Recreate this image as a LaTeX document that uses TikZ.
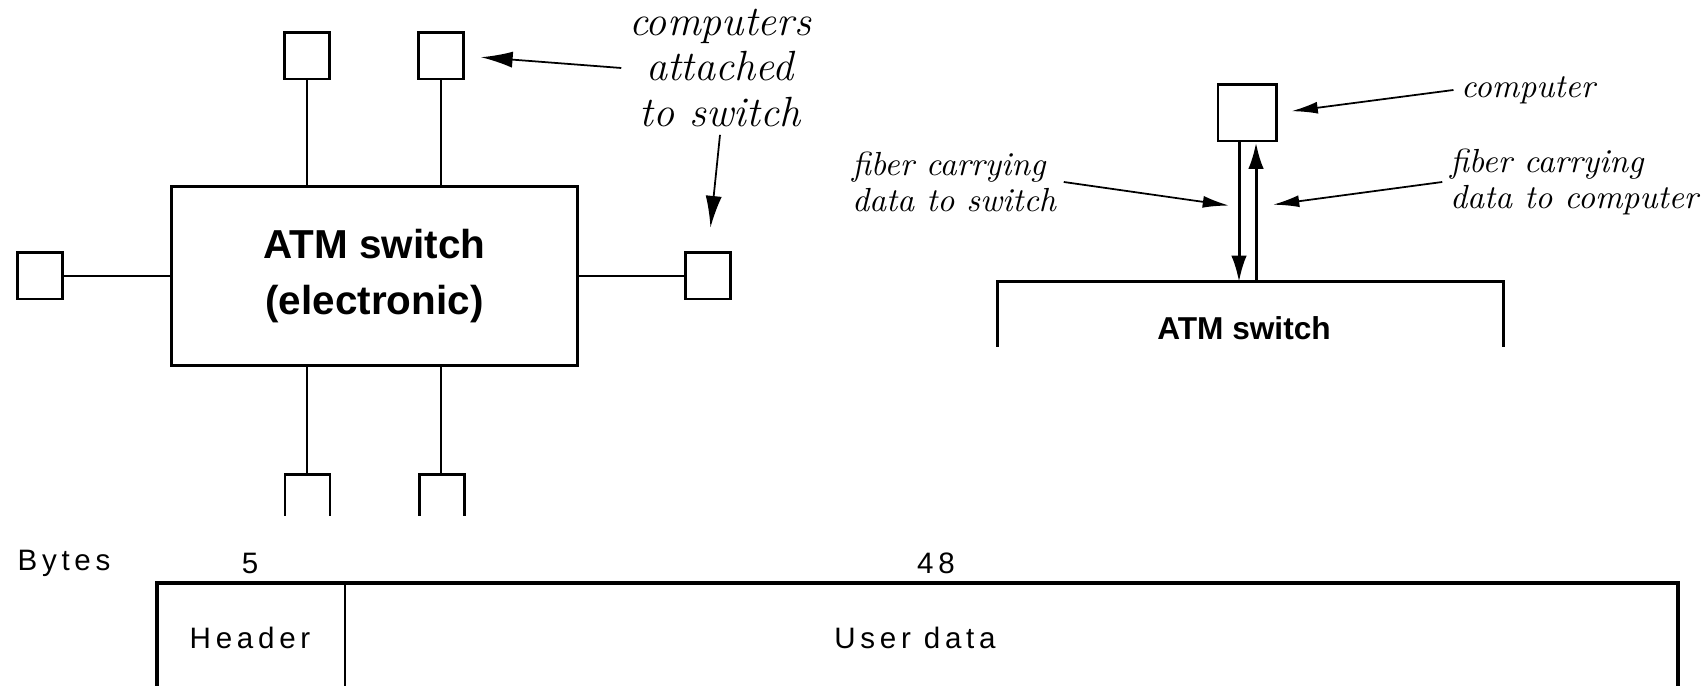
\documentclass[tikz,border=0pt]{standalone}
\usepackage{fontspec}
\usetikzlibrary{arrows.meta, positioning}
\newfontfamily\boxfont{Liberation Sans}
\newfontfamily\cellfont[LetterSpace=16]{Liberation Sans}

\begin{document}
\begin{tikzpicture}[x=0.01cm, y=-0.01cm,
	pc/.style={draw, line width=0.85pt, minimum width=0.45cm, minimum height=0.46cm, inner sep=0pt},
	link/.style={line width=0.55pt},
	outline/.style={line width=0.85pt},
	ptr/.style={-{Latex[length=9pt, width=4.6pt]}, line width=0.5pt},
	ptrs/.style={-{Latex[length=7.5pt, width=3.4pt]}, line width=0.5pt},
	fiber/.style={-{Latex[length=7.5pt, width=4.4pt]}, line width=0.85pt},
	note/.style={inner sep=2pt, font=\itshape\fontsize{9.5}{10}\selectfont},
	cell/.style={inner sep=1pt, font=\cellfont\fontsize{8.4}{10}\selectfont}]
	\useasboundingbox (0,0) rectangle (1703,686);
	% Switch with attached computers
	\node[draw, outline, minimum width=4.05cm, minimum height=1.78cm, align=center,
		font=\boxfont\bfseries\fontsize{11.5}{16}\selectfont] (atm) at (374.5,276) {ATM switch\\(electronic)};
	\node[pc] (top1) at (307,56) {};
	\node[pc] (top2) at (441,56) {};
	\node[pc] (lpc) at (40,276) {};
	\node[pc] (rpc) at (708,276) {};
	\coordinate (bot1) at (307,475);
	\coordinate (bot2) at (441,475);
	\draw[outline] (bot1) ++(-22,41) -- ++(0,-41) -- ++(45,0) -- ++(0,41);
	\draw[outline] (bot2) ++(-22,41) -- ++(0,-41) -- ++(45,0) -- ++(0,41);
	\draw[link] (top1.south) -- (top1.south |- atm.north);
	\draw[link] (top2.south) -- (top2.south |- atm.north);
	\draw[link] (lpc.east) -- (atm.west);
	\draw[link] (atm.east) -- (rpc.west);
	\draw[link] (atm.south -| bot1) -- (bot1);
	\draw[link] (atm.south -| bot2) -- (bot2);
	% Label for attached computers
	\node[note, align=center, font=\itshape\fontsize{12}{13}\selectfont] (attached) at (720,68) {computers\\attached\\to switch};
	\draw[ptr, shorten >=0.16cm] (attached.west) -- (top2.east);
	\draw[ptr, shorten >=0.24cm] (attached.south) -- (rpc.north);
	% One computer and its two fibers
	\node[pc, minimum width=0.58cm, minimum height=0.56cm] (pc) at (1247,113) {};
	\node[font=\boxfont\bfseries\fontsize{9}{11}\selectfont] (sw) at (1244,328) {ATM switch};
	\draw[outline] (997,347) |- (1503,282) -- (1503,347);
	\coordinate (swtop) at (1247,282);
	\draw[fiber] ([xshift=-0.08cm]pc.south) -- ([xshift=-0.08cm]swtop);
	\draw[fiber] ([xshift=0.09cm]swtop) -- ([xshift=0.09cm]pc.south);
	\coordinate (fdown) at (1239,207);
	\coordinate (fup) at (1256,207);
	\node[note] (pclbl) at (1528,90) {computer};
	\node[note, align=left] (tosw) at (954,182) {fiber carrying\\data to switch};
	\node[note, align=left] (topc) at (1574,182) {fiber carrying\\data to computer};
	\draw[ptrs, shorten >=0.14cm] (pclbl.west) -- (pc.east);
	\draw[ptrs, shorten >=0.1cm] (tosw.east) -- (fdown);
	\draw[ptrs, shorten >=0.17cm] (topc.west) -- (fup);
	% ATM cell
	\node[cell] (bytes) at (64,563) {Bytes};
	\node[cell] (n5) at (250,563) {5};
	\node[cell] (n48) at (936,563) {48};
	\node[cell] (hdr) at (250,638) {Header};
	\node[cell] (udata) at (915,638) {User data};
	\draw[line width=1.1pt] (157,686) |- (1678,583) -- (1678,686);
	\draw[line width=0.6pt] (345,583) -- (345,686);
\end{tikzpicture}
\end{document}
